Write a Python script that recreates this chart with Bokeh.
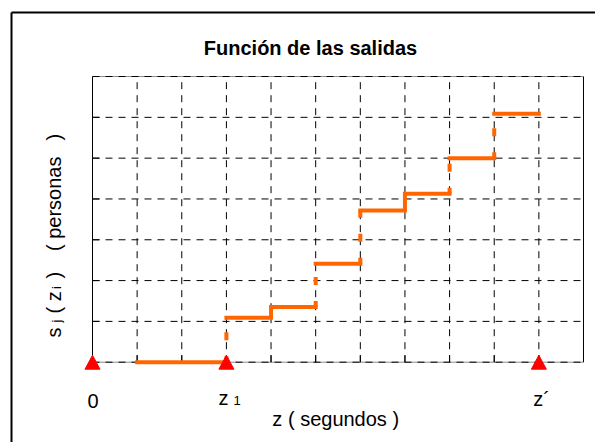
import math
from bokeh.plotting import figure
from bokeh.models import Range1d, Label
from bokeh.embed import file_html
from bokeh.resources import INLINE

# ---------------- data ----------------
x_grid = [0, 1, 2, 3, 4, 5, 6, 7, 8, 9, 10, 11]          # z grid (columns)
y_grid = [0, 1, 2, 3, 4, 5, 6, 7]                        # s grid (rows)
step_x = [1, 3, 4, 5, 6, 7, 8, 9, 10]                    # step boundaries on z
step_y = [0.0, 1.09, 1.35, 2.41, 3.72, 4.13, 5.00, 6.09]  # s_j level on each interval
marker_x = [0, 3, 10]                                    # 0, z1, z'
marker_y = [0, 0, 0]
tick_text = ["0", "z", "z´"]
sub_text = ["", "1", ""]

# ---------------- layout (pixels) ----------------
FIG_W, FIG_H = 595, 442
PX0, PXU = 92.0, 44.636      # canvas x of z=0, px per z unit
PY0, PYU = 361.7, 40.81      # canvas y of s=0, px per s unit

def fx(px):
    return (px - PX0) / PXU

def fy(py):
    return (PY0 - py) / PYU

p = figure(width=FIG_W, height=FIG_H, output_backend="svg", toolbar_location=None,
           x_range=Range1d(fx(0), fx(FIG_W)), y_range=Range1d(fy(FIG_H), fy(0)),
           min_border=0)
p.axis.visible = False
p.grid.visible = False
p.outline_line_color = None
p.background_fill_color = "white"
p.border_fill_color = "white"

x0, x1 = x_grid[0], x_grid[-1]
y0, y1 = y_grid[0], y_grid[-1]

# outer frame (left and top edges visible in the picture)
p.segment(x0=[fx(11), fx(11)], x1=[fx(11), fx(FIG_W + 5)], y0=[fy(12), fy(12)], y1=[fy(FIG_H + 5), fy(12)],
          line_color="black", line_width=2)

# top / bottom border (grey, under the dashed grid)
p.segment(x0=[x0, x0], x1=[x1, x1], y0=[y0, y1], y1=[y0, y1],
          line_color="#8c8c8c", line_width=1)

# dashed grid
p.segment(x0=x_grid[1:-1], x1=x_grid[1:-1], y0=[y0] * (len(x_grid) - 2), y1=[y1] * (len(x_grid) - 2),
          line_color="black", line_width=1, line_dash="7 6")
p.segment(x0=[x0] * len(y_grid), x1=[x1] * len(y_grid), y0=y_grid, y1=y_grid,
          line_color="black", line_width=1, line_dash="7 6")

# left / right border
p.segment(x0=[x0, x1], x1=[x0, x1], y0=[y0, y0], y1=[y1, y1], line_color="black", line_width=1)

# inward ticks (7 px)
tlx = 7 / PXU
tly = 7 / PYU
p.segment(x0=x_grid[1:-1], x1=x_grid[1:-1], y0=[y0] * (len(x_grid) - 2), y1=[y0 + tly] * (len(x_grid) - 2),
          line_color="black", line_width=1)
p.segment(x0=[x0] * (len(y_grid) - 2), x1=[x0 + tlx] * (len(y_grid) - 2), y0=y_grid[1:-1], y1=y_grid[1:-1],
          line_color="black", line_width=1)

# step function: horizontal parts
ORANGE = "#ff6600"
p.segment(x0=step_x[:-1], x1=step_x[1:], y0=step_y, y1=step_y,
          line_color=ORANGE, line_width=4, line_cap="square")

# vertical parts (risers)
vx, vy0, vy1 = [], [], []
sx, sy0, sy1 = [], [], []
for i in range(1, len(step_y)):
    if step_y[i] - step_y[i - 1] < 0.5:
        sx.append(step_x[i]); sy0.append(step_y[i - 1]); sy1.append(step_y[i])
    else:
        vx.append(step_x[i]); vy0.append(step_y[i - 1]); vy1.append(step_y[i])
p.segment(x0=vx, x1=vx, y0=vy0, y1=vy1, line_color=ORANGE, line_width=4,
          line_dash="8 16", line_dash_offset=2)
p.segment(x0=sx, x1=sx, y0=sy0, y1=sy1, line_color=ORANGE, line_width=4)

# red triangle markers (bbox centred on the point)
tw = 15 / PXU
th = 14 / PYU
txs = [[m - tw / 2, m + tw / 2, m] for m in marker_x]
tys = [[v - th / 2, v - th / 2, v + th / 2] for v in marker_y]
p.patches(xs=txs, ys=tys, fill_color="#ff0000", line_color="#ff0000", line_width=1)

FONT = "Liberation Sans"

def lab(text, px, py, size, align="left", angle=0.0, bold=False):
    p.add_layout(Label(x=fx(px), y=fy(py), text=text, text_font=FONT,
                       text_font_size=f"{size}px", text_align=align,
                       text_baseline="alphabetic", angle=angle,
                       text_font_style="bold" if bold else "normal",
                       text_color="black"))

# title
lab("Función de las salidas", 310, 47, 20, align="center", bold=True)

# tick labels at markers
lab(tick_text[0], PX0 + marker_x[0] * PXU + 0.5, 400, 20, align="center")
lab(tick_text[1], PX0 + marker_x[1] * PXU - 3, 397, 20, align="center")
lab(sub_text[1], PX0 + marker_x[1] * PXU + 7, 400, 13)
lab(tick_text[2], PX0 + marker_x[2] * PXU - 5.5, 398, 20)

# x axis title
lab("z  ( segundos )", 338, 418, 20, align="center")

# y axis title (rotated, pieces with subscripts)
A = math.pi / 2
lab("s", 53, 337, 20, angle=A)
lab("j", 56, 322, 13, angle=A)
lab("( z", 53, 313, 20, angle=A)
lab("i", 56, 288.5, 13, angle=A)
lab(")", 53, 278, 20, angle=A)
lab("( personas", 53, 250.5, 20, angle=A)
lab(")", 53, 140, 20, angle=A)

open("out.html", "w").write(file_html(p, INLINE))
